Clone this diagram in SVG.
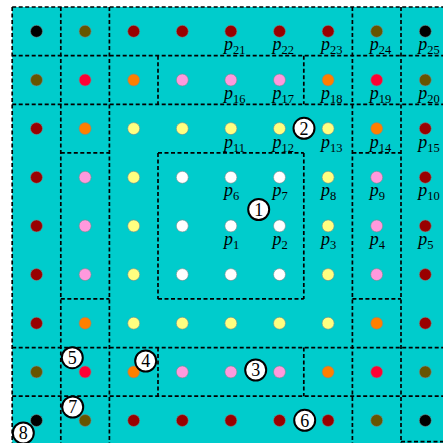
<svg xmlns="http://www.w3.org/2000/svg" width="443" height="443" viewBox="0 0 443 443">
<style>
.bg{fill:#00CCCC}
.box{fill:none;stroke:#000;stroke-width:1.7;stroke-dasharray:4 2.5}
.d{stroke:#7a8a8a;stroke-width:0.6}
.K{fill:#000}.O{fill:#665500}.D{fill:#990000}.R{fill:#ff0033}.A{fill:#ff7f00}.P{fill:#ff99dd}.Y{fill:#ffff80}.W{fill:#ffffff}
.lbl{font-family:"Liberation Serif",serif;font-style:italic;font-size:18px;fill:#000}
.sub{font-style:normal;font-size:12.5px}
.mk circle{fill:#fff;stroke:#000;stroke-width:2}
.mk text{font-family:"Liberation Serif",serif;font-size:18px;text-anchor:middle;fill:#000}
</style>
<rect class="bg" x="12.2" y="7" width="440" height="440"/>
<g id="connectors">
<path class="box" d="M12.2 7H449.6 M12.2 55.65H449.6 M12.2 104.3H449.6 M12.2 347.55H449.6 M12.2 396.2H449.6 M401 441.7H449.6
M60.8 152.95H109.4 M158 152.95H303.8 M352.4 152.95H401
M60.8 298.9H109.4 M158 298.9H303.8 M352.4 298.9H401"/>
<path class="box" d="M12.2 7V445 M60.8 7V445 M109.4 7V445 M352.4 7V445 M401 7V445
M158 55.65V104.3 M158 152.95V298.9 M158 347.55V396.2
M303.8 55.65V104.3 M303.8 152.95V298.9 M303.8 347.55V396.2"/>
</g>
<g id="points">
<g id="n0_0"><circle class="d K" cx="36.5" cy="31.3" r="6"/></g>
<g id="n0_1"><circle class="d O" cx="85.1" cy="31.3" r="6"/></g>
<g id="n0_2"><circle class="d D" cx="133.7" cy="31.3" r="6"/></g>
<g id="n0_3"><circle class="d D" cx="182.3" cy="31.3" r="6"/></g>
<g id="p21"><circle class="d D" cx="230.9" cy="31.3" r="6"/><text class="lbl" x="223.9" y="50.3">p<tspan class="sub" dy="4">21</tspan></text></g>
<g id="p22"><circle class="d D" cx="279.5" cy="31.3" r="6"/><text class="lbl" x="272.5" y="50.3">p<tspan class="sub" dy="4">22</tspan></text></g>
<g id="p23"><circle class="d D" cx="328.1" cy="31.3" r="6"/><text class="lbl" x="321.1" y="50.3">p<tspan class="sub" dy="4">23</tspan></text></g>
<g id="p24"><circle class="d O" cx="376.7" cy="31.3" r="6"/><text class="lbl" x="369.7" y="50.3">p<tspan class="sub" dy="4">24</tspan></text></g>
<g id="p25"><circle class="d K" cx="425.3" cy="31.3" r="6"/><text class="lbl" x="418.3" y="50.3">p<tspan class="sub" dy="4">25</tspan></text></g>
<g id="n1_0"><circle class="d O" cx="36.5" cy="80" r="6"/></g>
<g id="n1_1"><circle class="d R" cx="85.1" cy="80" r="6"/></g>
<g id="n1_2"><circle class="d A" cx="133.7" cy="80" r="6"/></g>
<g id="n1_3"><circle class="d P" cx="182.3" cy="80" r="6"/></g>
<g id="p16"><circle class="d P" cx="230.9" cy="80" r="6"/><text class="lbl" x="223.9" y="99">p<tspan class="sub" dy="4">16</tspan></text></g>
<g id="p17"><circle class="d P" cx="279.5" cy="80" r="6"/><text class="lbl" x="272.5" y="99">p<tspan class="sub" dy="4">17</tspan></text></g>
<g id="p18"><circle class="d A" cx="328.1" cy="80" r="6"/><text class="lbl" x="321.1" y="99">p<tspan class="sub" dy="4">18</tspan></text></g>
<g id="p19"><circle class="d R" cx="376.7" cy="80" r="6"/><text class="lbl" x="369.7" y="99">p<tspan class="sub" dy="4">19</tspan></text></g>
<g id="p20"><circle class="d O" cx="425.3" cy="80" r="6"/><text class="lbl" x="418.3" y="99">p<tspan class="sub" dy="4">20</tspan></text></g>
<g id="n2_0"><circle class="d D" cx="36.5" cy="128.6" r="6"/></g>
<g id="n2_1"><circle class="d A" cx="85.1" cy="128.6" r="6"/></g>
<g id="n2_2"><circle class="d Y" cx="133.7" cy="128.6" r="6"/></g>
<g id="n2_3"><circle class="d Y" cx="182.3" cy="128.6" r="6"/></g>
<g id="p11"><circle class="d Y" cx="230.9" cy="128.6" r="6"/><text class="lbl" x="223.9" y="147.6">p<tspan class="sub" dy="4">11</tspan></text></g>
<g id="p12"><circle class="d Y" cx="279.5" cy="128.6" r="6"/><text class="lbl" x="272.5" y="147.6">p<tspan class="sub" dy="4">12</tspan></text></g>
<g id="p13"><circle class="d Y" cx="328.1" cy="128.6" r="6"/><text class="lbl" x="321.1" y="147.6">p<tspan class="sub" dy="4">13</tspan></text></g>
<g id="p14"><circle class="d A" cx="376.7" cy="128.6" r="6"/><text class="lbl" x="369.7" y="147.6">p<tspan class="sub" dy="4">14</tspan></text></g>
<g id="p15"><circle class="d D" cx="425.3" cy="128.6" r="6"/><text class="lbl" x="418.3" y="147.6">p<tspan class="sub" dy="4">15</tspan></text></g>
<g id="n3_0"><circle class="d D" cx="36.5" cy="177.3" r="6"/></g>
<g id="n3_1"><circle class="d P" cx="85.1" cy="177.3" r="6"/></g>
<g id="n3_2"><circle class="d Y" cx="133.7" cy="177.3" r="6"/></g>
<g id="n3_3"><circle class="d W" cx="182.3" cy="177.3" r="6"/></g>
<g id="p6"><circle class="d W" cx="230.9" cy="177.3" r="6"/><text class="lbl" x="223.9" y="196.3">p<tspan class="sub" dy="4">6</tspan></text></g>
<g id="p7"><circle class="d W" cx="279.5" cy="177.3" r="6"/><text class="lbl" x="272.5" y="196.3">p<tspan class="sub" dy="4">7</tspan></text></g>
<g id="p8"><circle class="d Y" cx="328.1" cy="177.3" r="6"/><text class="lbl" x="321.1" y="196.3">p<tspan class="sub" dy="4">8</tspan></text></g>
<g id="p9"><circle class="d P" cx="376.7" cy="177.3" r="6"/><text class="lbl" x="369.7" y="196.3">p<tspan class="sub" dy="4">9</tspan></text></g>
<g id="p10"><circle class="d D" cx="425.3" cy="177.3" r="6"/><text class="lbl" x="418.3" y="196.3">p<tspan class="sub" dy="4">10</tspan></text></g>
<g id="n4_0"><circle class="d D" cx="36.5" cy="225.9" r="6"/></g>
<g id="n4_1"><circle class="d P" cx="85.1" cy="225.9" r="6"/></g>
<g id="n4_2"><circle class="d Y" cx="133.7" cy="225.9" r="6"/></g>
<g id="n4_3"><circle class="d W" cx="182.3" cy="225.9" r="6"/></g>
<g id="p1"><circle class="d W" cx="230.9" cy="225.9" r="6"/><text class="lbl" x="223.9" y="244.9">p<tspan class="sub" dy="4">1</tspan></text></g>
<g id="p2"><circle class="d W" cx="279.5" cy="225.9" r="6"/><text class="lbl" x="272.5" y="244.9">p<tspan class="sub" dy="4">2</tspan></text></g>
<g id="p3"><circle class="d Y" cx="328.1" cy="225.9" r="6"/><text class="lbl" x="321.1" y="244.9">p<tspan class="sub" dy="4">3</tspan></text></g>
<g id="p4"><circle class="d P" cx="376.7" cy="225.9" r="6"/><text class="lbl" x="369.7" y="244.9">p<tspan class="sub" dy="4">4</tspan></text></g>
<g id="p5"><circle class="d D" cx="425.3" cy="225.9" r="6"/><text class="lbl" x="418.3" y="244.9">p<tspan class="sub" dy="4">5</tspan></text></g>
<g id="n5_0"><circle class="d D" cx="36.5" cy="274.6" r="6"/></g>
<g id="n5_1"><circle class="d P" cx="85.1" cy="274.6" r="6"/></g>
<g id="n5_2"><circle class="d Y" cx="133.7" cy="274.6" r="6"/></g>
<g id="n5_3"><circle class="d W" cx="182.3" cy="274.6" r="6"/></g>
<g id="n5_4"><circle class="d W" cx="230.9" cy="274.6" r="6"/></g>
<g id="n5_5"><circle class="d W" cx="279.5" cy="274.6" r="6"/></g>
<g id="n5_6"><circle class="d Y" cx="328.1" cy="274.6" r="6"/></g>
<g id="n5_7"><circle class="d P" cx="376.7" cy="274.6" r="6"/></g>
<g id="n5_8"><circle class="d D" cx="425.3" cy="274.6" r="6"/></g>
<g id="n6_0"><circle class="d D" cx="36.5" cy="323.2" r="6"/></g>
<g id="n6_1"><circle class="d A" cx="85.1" cy="323.2" r="6"/></g>
<g id="n6_2"><circle class="d Y" cx="133.7" cy="323.2" r="6"/></g>
<g id="n6_3"><circle class="d Y" cx="182.3" cy="323.2" r="6"/></g>
<g id="n6_4"><circle class="d Y" cx="230.9" cy="323.2" r="6"/></g>
<g id="n6_5"><circle class="d Y" cx="279.5" cy="323.2" r="6"/></g>
<g id="n6_6"><circle class="d Y" cx="328.1" cy="323.2" r="6"/></g>
<g id="n6_7"><circle class="d A" cx="376.7" cy="323.2" r="6"/></g>
<g id="n6_8"><circle class="d D" cx="425.3" cy="323.2" r="6"/></g>
<g id="n7_0"><circle class="d O" cx="36.5" cy="371.9" r="6"/></g>
<g id="n7_1"><circle class="d R" cx="85.1" cy="371.9" r="6"/></g>
<g id="n7_2"><circle class="d A" cx="133.7" cy="371.9" r="6"/></g>
<g id="n7_3"><circle class="d P" cx="182.3" cy="371.9" r="6"/></g>
<g id="n7_4"><circle class="d P" cx="230.9" cy="371.9" r="6"/></g>
<g id="n7_5"><circle class="d P" cx="279.5" cy="371.9" r="6"/></g>
<g id="n7_6"><circle class="d A" cx="328.1" cy="371.9" r="6"/></g>
<g id="n7_7"><circle class="d R" cx="376.7" cy="371.9" r="6"/></g>
<g id="n7_8"><circle class="d O" cx="425.3" cy="371.9" r="6"/></g>
<g id="n8_0"><circle class="d K" cx="36.5" cy="420.5" r="6"/></g>
<g id="n8_1"><circle class="d O" cx="85.1" cy="420.5" r="6"/></g>
<g id="n8_2"><circle class="d D" cx="133.7" cy="420.5" r="6"/></g>
<g id="n8_3"><circle class="d D" cx="182.3" cy="420.5" r="6"/></g>
<g id="n8_4"><circle class="d D" cx="230.9" cy="420.5" r="6"/></g>
<g id="n8_5"><circle class="d D" cx="279.5" cy="420.5" r="6"/></g>
<g id="n8_6"><circle class="d D" cx="328.1" cy="420.5" r="6"/></g>
<g id="n8_7"><circle class="d O" cx="376.7" cy="420.5" r="6"/></g>
<g id="n8_8"><circle class="d K" cx="425.3" cy="420.5" r="6"/></g>
</g>
<g id="markers" class="mk">
<g id="m1"><circle cx="258.7" cy="209.5" r="10.5"/><text x="258.7" y="215.8">1</text></g>
<g id="m2"><circle cx="304" cy="128.3" r="10.5"/><text x="304" y="134.6">2</text></g>
<g id="m3"><circle cx="255.7" cy="370" r="10.5"/><text x="255.7" y="376.3">3</text></g>
<g id="m4"><circle cx="145.7" cy="361" r="10.5"/><text x="145.7" y="367.3">4</text></g>
<g id="m5"><circle cx="72.3" cy="357.7" r="10.5"/><text x="72.3" y="364">5</text></g>
<g id="m6"><circle cx="304.7" cy="420.3" r="10.5"/><text x="304.7" y="426.6">6</text></g>
<g id="m7"><circle cx="72.7" cy="407" r="10.5"/><text x="72.7" y="413.3">7</text></g>
<g id="m8"><circle cx="23.3" cy="433" r="10.5"/><text x="23.3" y="439.3">8</text></g>
</g>
</svg>
